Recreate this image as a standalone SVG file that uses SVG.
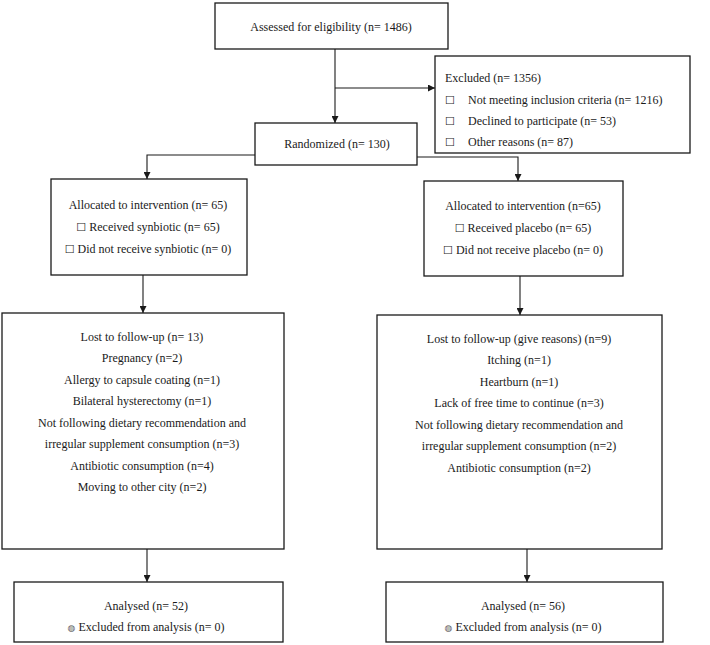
<svg xmlns="http://www.w3.org/2000/svg" width="710" height="645" viewBox="0 0 710 645">
<defs>
<style>
.box{fill:#fff;stroke:#1a1a1a;stroke-width:1.3}
.t{font-family:"Liberation Serif","Times New Roman",serif;font-size:12px;fill:#1a1a1a}
.c{text-anchor:middle}
.sym{font-family:"DejaVu Sans",sans-serif;font-size:11px;font-weight:bold}
.bul{font-family:"DejaVu Sans",sans-serif;font-size:9px;fill:#555}
.ln{fill:none;stroke:#1a1a1a;stroke-width:1.1}
</style>
<marker id="ah" viewBox="0 0 10 10" refX="10" refY="5" markerWidth="7" markerHeight="7" markerUnits="userSpaceOnUse" orient="auto">
<path d="M0,0 L10,5 L0,10 z" fill="#1a1a1a"/>
</marker>
</defs>
<rect width="710" height="645" fill="#fff"/>
<g id="connectors">
<path class="ln" d="M335,49 V123" marker-end="url(#ah)"/>
<path class="ln" d="M335,88 H435" marker-end="url(#ah)"/>
<path class="ln" d="M255,155 H147 V179" marker-end="url(#ah)"/>
<path class="ln" d="M417,157 H518 V181" marker-end="url(#ah)"/>
<path class="ln" d="M143,275 V313" marker-end="url(#ah)"/>
<path class="ln" d="M520,276 V315" marker-end="url(#ah)"/>
<path class="ln" d="M147,549 V582" marker-end="url(#ah)"/>
<path class="ln" d="M527,549 V582" marker-end="url(#ah)"/>
</g>
<g id="assessed">
<rect class="box" x="215" y="3" width="233" height="46"/>
<text class="t c" x="331" y="31">Assessed for eligibility (n= 1486)</text>
</g>
<g id="excluded">
<rect class="box" x="435" y="56" width="255" height="97"/>
<text class="t" x="445" y="82">Excluded (n= 1356)</text>
<text class="t" x="445" y="104"><tspan class="sym">☐</tspan><tspan x="468">Not meeting inclusion criteria (n= 1216)</tspan></text>
<text class="t" x="445" y="125"><tspan class="sym">☐</tspan><tspan x="468">Declined to participate (n= 53)</tspan></text>
<text class="t" x="445" y="146"><tspan class="sym">☐</tspan><tspan x="468">Other reasons (n= 87)</tspan></text>
</g>
<g id="randomized">
<rect class="box" x="255" y="123" width="162" height="42"/>
<text class="t c" x="337" y="148">Randomized (n= 130)</text>
</g>
<g id="alloc-left">
<rect class="box" x="51" y="179" width="196" height="96"/>
<text class="t c" x="148" y="209">Allocated to intervention (n= 65)</text>
<text class="t c" x="148" y="231"><tspan class="sym">☐</tspan> Received synbiotic (n= 65)</text>
<text class="t c" x="148" y="253"><tspan class="sym">☐</tspan> Did not receive synbiotic (n= 0)</text>
</g>
<g id="alloc-right">
<rect class="box" x="424" y="181" width="199" height="95"/>
<text class="t c" x="523" y="210">Allocated to intervention (n=65)</text>
<text class="t c" x="523" y="232"><tspan class="sym">☐</tspan> Received placebo (n= 65)</text>
<text class="t c" x="523" y="254"><tspan class="sym">☐</tspan> Did not receive placebo (n= 0)</text>
</g>
<g id="lost-left">
<rect class="box" x="2" y="313" width="282" height="236"/>
<text class="t c" x="142" y="341">Lost to follow-up (n= 13)</text>
<text class="t c" x="142" y="362">Pregnancy (n=2)</text>
<text class="t c" x="142" y="384">Allergy to capsule coating (n=1)</text>
<text class="t c" x="142" y="405">Bilateral hysterectomy (n=1)</text>
<text class="t c" x="142" y="427">Not following dietary recommendation and</text>
<text class="t c" x="142" y="448">irregular supplement consumption (n=3)</text>
<text class="t c" x="142" y="470">Antibiotic consumption (n=4)</text>
<text class="t c" x="142" y="491">Moving to other city (n=2)</text>
</g>
<g id="lost-right">
<rect class="box" x="377" y="315" width="285" height="234"/>
<text class="t c" x="519" y="343">Lost to follow-up (give reasons) (n=9)</text>
<text class="t c" x="519" y="364">Itching (n=1)</text>
<text class="t c" x="519" y="386">Heartburn (n=1)</text>
<text class="t c" x="519" y="407">Lack of free time to continue (n=3)</text>
<text class="t c" x="519" y="429">Not following dietary recommendation and</text>
<text class="t c" x="519" y="450">irregular supplement consumption (n=2)</text>
<text class="t c" x="519" y="472">Antibiotic consumption (n=2)</text>
</g>
<g id="analysed-left">
<rect class="box" x="14" y="582" width="269" height="60"/>
<text class="t c" x="146" y="610">Analysed (n= 52)</text>
<text class="t c" x="146" y="631"><tspan class="bul">◍</tspan> Excluded from analysis (n= 0)</text>
</g>
<g id="analysed-right">
<rect class="box" x="386" y="582" width="277" height="60"/>
<text class="t c" x="523" y="610">Analysed (n= 56)</text>
<text class="t c" x="523" y="631"><tspan class="bul">◍</tspan> Excluded from analysis (n= 0)</text>
</g>
</svg>
